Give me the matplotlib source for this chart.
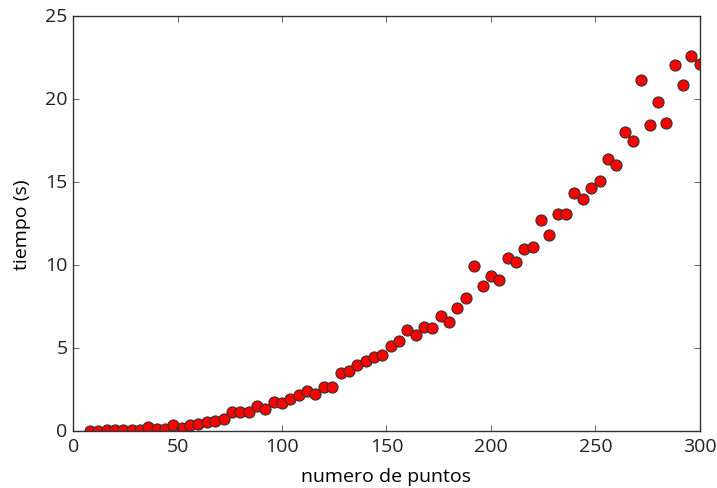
#!/usr/bin/env python3

import numpy as np
import matplotlib
matplotlib.use('Agg')
import matplotlib.pyplot as plt

plt.style.use('classic')
plt.rcParams['font.family'] = ['Open Sans', 'DejaVu Sans']

# numero de puntos vs tiempo medido
n_puntos = list(range(8, 301, 4))
tiempo = [0.0, 0.0, 0.05, 0.08, 0.05, 0.06, 0.05, 0.25, 0.1, 0.1,
          0.35, 0.2, 0.35, 0.45, 0.55, 0.6, 0.75, 1.15, 1.15, 1.15,
          1.5, 1.3, 1.75, 1.7, 1.9, 2.15, 2.4, 2.25, 2.65, 2.65,
          3.5, 3.6, 3.95, 4.2, 4.45, 4.55, 5.1, 5.4, 6.1, 5.8,
          6.25, 6.2, 6.9, 6.55, 7.4, 8.0, 9.95, 8.7, 9.3, 9.1,
          10.4, 10.2, 10.95, 11.05, 12.7, 11.8, 13.05, 13.05, 14.3, 13.95,
          14.65, 15.05, 16.35, 16.0, 18.0, 17.45, 21.1, 18.4, 19.8, 18.55,
          22.0, 20.8, 22.55, 22.1]

fig = plt.figure(figsize=(7.17, 4.89), dpi=100, facecolor='white')
ax = fig.add_axes([0.102, 0.1166, 0.874, 0.8494])
ax.plot(n_puntos, tiempo, 'ro', markersize=8, markeredgecolor='#333333', markeredgewidth=0.8)
ax.set_xlim(0, 300)
ax.set_ylim(0, 25)
ax.set_xlabel('numero de puntos', fontsize=14, labelpad=9)
ax.set_ylabel('tiempo (s)', fontsize=14, labelpad=10)
ax.tick_params(labelsize=14, colors='#222222')
for s in ax.spines.values():
    s.set_color('#333333')

fig.savefig('out.png', dpi=100, facecolor='white')
